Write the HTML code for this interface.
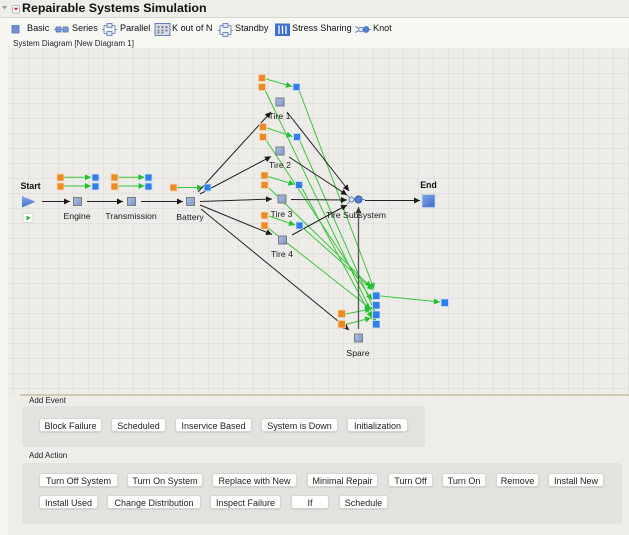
<!DOCTYPE html>
<html><head><meta charset="utf-8">
<style>
html,body{margin:0;padding:0;}
body{width:629px;height:535px;overflow:hidden;position:relative;background:#eeede9;font-family:"Liberation Sans",Arial,sans-serif;color:#222;}
.abs{position:absolute;}
#leftstrip{left:0;top:18px;width:8px;height:517px;background:#f5f5f2;}
#titlebar{left:0;top:0;width:629px;height:17px;background:#ededea;border-bottom:1px solid #d6d6d2;}
#toolbar{left:0;top:18px;width:629px;height:30px;background:#f7f7f3;}
#title{left:22px;top:1px;font-size:12.4px;font-weight:bold;color:#111;white-space:nowrap;}
.tb{position:absolute;top:23px;font-size:9.1px;color:#111;white-space:nowrap;}
#sdlabel{left:13px;top:39px;font-size:8px;color:#222;white-space:nowrap;}
#canvas{left:8px;top:48px;width:621px;height:346px;background-color:#edece9;
background-image:linear-gradient(to right,#e2e1dd 1px,transparent 1px),linear-gradient(to bottom,#e2e1dd 1px,transparent 1px);
background-size:15px 15px;background-position:5px 10px;}
#splitter{left:20px;top:394px;width:609px;height:2px;background:#cbccb3;}
.lbl{position:absolute;font-size:8px;color:#222;white-space:nowrap;}
.panel{position:absolute;background:#e3e2df;border-radius:4px;}
.btn{position:absolute;height:14px;line-height:14px;background:#fff;border:1px solid #d6d6d2;border-radius:3px;box-sizing:border-box;font-size:9px;color:#222;text-align:center;white-space:nowrap;box-shadow:0 0.5px 1px rgba(0,0,0,0.15);}
svg{position:absolute;left:0;top:0;}
</style></head><body>
<div class="abs" id="titlebar"></div>
<div class="abs" id="toolbar"></div>
<div class="abs" id="leftstrip"></div>
<div class="abs" id="canvas"></div>
<div class="abs" id="splitter"></div>

<div class="abs" id="title">Repairable Systems Simulation</div>
<div class="tb" style="left:27px;">Basic</div>
<div class="tb" style="left:72px;">Series</div>
<div class="tb" style="left:120px;">Parallel</div>
<div class="tb" style="left:172px;">K out of N</div>
<div class="tb" style="left:235px;">Standby</div>
<div class="tb" style="left:292px;">Stress Sharing</div>
<div class="tb" style="left:373px;">Knot</div>
<div class="abs" id="sdlabel">System Diagram [New Diagram 1]</div>

<svg width="629" height="535" viewBox="0 0 629 535" xmlns="http://www.w3.org/2000/svg">
<defs>
<marker id="ab" viewBox="0 0 10 10" refX="10" refY="5" markerWidth="8" markerHeight="6" markerUnits="userSpaceOnUse" orient="auto"><path d="M0,0 L10,5 L0,10 z" fill="#1a1a1a"/></marker>
<marker id="ag" viewBox="0 0 10 10" refX="10" refY="5" markerWidth="8" markerHeight="6" markerUnits="userSpaceOnUse" orient="auto"><path d="M0,0 L10,5 L0,10 z" fill="#22c030"/></marker>
<marker id="ad" viewBox="0 0 10 10" refX="10" refY="5" markerWidth="8" markerHeight="6" markerUnits="userSpaceOnUse" orient="auto"><path d="M0,0 L10,5 L0,10 z" fill="#333"/></marker>
<linearGradient id="gb" x1="0" y1="0" x2="1" y2="1"><stop offset="0" stop-color="#a9bde6"/><stop offset="1" stop-color="#7f98cf"/></linearGradient>
<linearGradient id="ge" x1="0" y1="0" x2="1" y2="1"><stop offset="0" stop-color="#7fa6ea"/><stop offset="1" stop-color="#3d6ac8"/></linearGradient>
<linearGradient id="gs" x1="0" y1="0" x2="0" y2="1"><stop offset="0" stop-color="#86acea"/><stop offset="1" stop-color="#3e6fcb"/></linearGradient>
</defs>

<!-- title icons -->
<path d="M2,6 L7,6 L4.5,9.5 z" fill="#9a9a9a"/>
<rect x="12.5" y="5.5" width="7" height="7.5" rx="1.5" fill="#fff" stroke="#b9b9b9"/>
<path d="M13.8,7.8 L18.2,7.8 L16,10.6 z" fill="#d62020"/>

<!-- toolbar icons -->
<rect x="12" y="25.5" width="7" height="7.5" fill="#6f90d4" stroke="#5673b5" stroke-width="0.8"/>
<g stroke="#5673b5" stroke-width="0.8">
<line x1="54" y1="29.5" x2="69" y2="29.5"/>
<rect x="56" y="27" width="5" height="5" fill="#7b9ad8"/>
<rect x="63" y="27" width="5" height="5" fill="#7b9ad8"/>
</g>
<g stroke="#5673b5" stroke-width="0.8" fill="none">
<path d="M102,29.5 H104 M104,25.5 V33.5 M104,25.5 H107 M104,33.5 H107 M112,25.5 H115 M112,33.5 H115 M115,25.5 V33.5 M115,29.5 H117"/>
<rect x="107" y="23.5" width="5" height="4" fill="#dfe6f5"/>
<rect x="107" y="31.5" width="5" height="4" fill="#dfe6f5"/>
</g>
<rect x="155" y="23.5" width="15" height="12" fill="#d7dbe4" stroke="#5673b5" stroke-width="0.9"/>
<g fill="#7a7f8a">
<rect x="157.5" y="26" width="2" height="2"/><rect x="161.5" y="26" width="2" height="2"/><rect x="165.5" y="26" width="2" height="2"/>
<rect x="157.5" y="29.5" width="2" height="2"/><rect x="161.5" y="29.5" width="2" height="2"/><rect x="165.5" y="29.5" width="2" height="2"/>
<rect x="157.5" y="32" width="2" height="1.5"/><rect x="161.5" y="32" width="2" height="1.5"/>
</g>
<g stroke="#5673b5" stroke-width="0.8" fill="none">
<path d="M218,30.5 H220 M220,25.5 V34.5 M220,25.5 H223 M220,34.5 H223 M228,25.5 H231 M228,34.5 H231 M231,25.5 V34.5 M231,30.5 H233"/>
<rect x="223" y="23.5" width="5" height="4" fill="#dfe6f5"/>
<rect x="223" y="32.5" width="5" height="4" fill="#dfe6f5"/>
</g>
<rect x="275" y="23.5" width="15" height="12.5" fill="#3f6fd0"/>
<g stroke="#fff" stroke-width="1.3"><line x1="279" y1="25.5" x2="279" y2="34"/><line x1="282.5" y1="25.5" x2="282.5" y2="34"/><line x1="286" y1="25.5" x2="286" y2="34"/></g>
<g stroke="#5673b5" stroke-width="0.8">
<line x1="355" y1="26.5" x2="361" y2="29.5"/><line x1="355" y1="32.5" x2="361" y2="29.5"/>
<circle cx="361" cy="29.5" r="2.3" fill="#dfe6f5"/>
<circle cx="366" cy="29.5" r="3" fill="#4f7fd0"/>
<line x1="369" y1="29.5" x2="371" y2="29.5"/>
</g>

<!-- long green lines to spare -->
<g stroke="#3cc63c" stroke-width="1" fill="none" marker-end="url(#ag)">
<line x1="265" y1="90" x2="376" y2="322"/>
<line x1="299" y1="90" x2="374" y2="289"/>
<line x1="266" y1="140" x2="372" y2="300"/>
<line x1="300" y1="141" x2="375" y2="312"/>
<line x1="269" y1="188" x2="371" y2="287"/>
<line x1="302" y1="188" x2="372" y2="318"/>
<line x1="268" y1="228" x2="371" y2="309"/>
<line x1="303" y1="228" x2="373" y2="290"/>
</g>

<!-- short green arrows -->
<g stroke="#3cc63c" stroke-width="1" marker-end="url(#ag)">
<line x1="64" y1="177.3" x2="91" y2="177.3"/>
<line x1="64" y1="186" x2="91" y2="186"/>
<line x1="118" y1="177.3" x2="144.5" y2="177.3"/>
<line x1="118" y1="186" x2="144.5" y2="186"/>
<line x1="177" y1="187.5" x2="203" y2="187.5"/>
<line x1="266" y1="79" x2="292" y2="86.5"/>
<line x1="267" y1="128" x2="292.5" y2="136.5"/>
<line x1="268" y1="176.5" x2="294.5" y2="184.5"/>
<line x1="269" y1="216" x2="295" y2="225"/>
<line x1="345.5" y1="314" x2="371" y2="309"/>
<line x1="345.5" y1="324.5" x2="371" y2="318"/>
<line x1="380.5" y1="296" x2="440" y2="302"/>
</g>

<!-- black arrows -->
<g stroke="#222" stroke-width="1" marker-end="url(#ab)">
<line x1="42" y1="201.5" x2="70" y2="201.5"/>
<line x1="87" y1="201.5" x2="123" y2="201.5"/>
<line x1="141" y1="201.5" x2="183" y2="201.5"/>
<line x1="198" y1="192" x2="271" y2="112"/>
<line x1="200" y1="194" x2="271" y2="156.5"/>
<line x1="200" y1="201.5" x2="272" y2="199"/>
<line x1="200" y1="205" x2="272" y2="234.5"/>
<line x1="201" y1="209" x2="349" y2="330"/>
<line x1="287" y1="112" x2="349" y2="191"/>
<line x1="289" y1="157" x2="347" y2="195"/>
<line x1="291" y1="199.5" x2="347" y2="200"/>
<line x1="292" y1="235" x2="347" y2="205"/>
<line x1="365" y1="200.5" x2="420" y2="200.5"/>
</g>
<line x1="358.5" y1="329" x2="358.5" y2="207" stroke="#555" stroke-width="1.3" marker-end="url(#ad)"/>

<!-- orange squares -->
<g fill="#ef8a23" stroke="#f7d9b5" stroke-width="0.8">
<rect x="57" y="174" width="7" height="7"/><rect x="57" y="183" width="7" height="7"/>
<rect x="111" y="174" width="7" height="7"/><rect x="111" y="183" width="7" height="7"/>
<rect x="170" y="184" width="7" height="7"/>
<rect x="258.5" y="74.5" width="7" height="7"/><rect x="258.5" y="83.5" width="7" height="7"/>
<rect x="259.5" y="123.5" width="7" height="7"/><rect x="259.5" y="133.5" width="7" height="7"/>
<rect x="261" y="172" width="7" height="7"/><rect x="261" y="181.5" width="7" height="7"/>
<rect x="261" y="212" width="7" height="7"/><rect x="261" y="222" width="7" height="7"/>
<rect x="338" y="310" width="7.5" height="7.5"/><rect x="338" y="320.5" width="7.5" height="7.5"/>
</g>
<!-- blue squares -->
<g fill="#2f7fea" stroke="#cfe0f8" stroke-width="0.8">
<rect x="92" y="174" width="7" height="7"/><rect x="92" y="183" width="7" height="7"/>
<rect x="145" y="174" width="7" height="7"/><rect x="145" y="183" width="7" height="7"/>
<rect x="204" y="184" width="7" height="7"/>
<rect x="293" y="83.5" width="7" height="7"/>
<rect x="293.5" y="133.5" width="7" height="7"/>
<rect x="295.5" y="181.5" width="7" height="7"/>
<rect x="296" y="222" width="7" height="7"/>
<rect x="372.5" y="292" width="7.5" height="7.5"/><rect x="372.5" y="301.5" width="7.5" height="7.5"/>
<rect x="372.5" y="311" width="7.5" height="7.5"/><rect x="372.5" y="320.5" width="7.5" height="7.5"/>
<rect x="441" y="299" width="7.5" height="7.5"/>
</g>
<!-- blocks -->
<g fill="url(#gb)" stroke="#7d7d7d" stroke-width="1">
<rect x="73.5" y="197.5" width="8" height="8"/>
<rect x="127.5" y="197.5" width="8" height="8"/>
<rect x="186.5" y="197.5" width="8" height="8"/>
<rect x="276" y="98" width="8" height="8"/>
<rect x="276" y="147" width="8" height="8"/>
<rect x="278" y="195" width="8" height="8"/>
<rect x="278.5" y="236" width="8" height="8"/>
<rect x="354.5" y="334" width="8" height="8"/>
</g>
<rect x="422" y="194.5" width="13" height="13" fill="url(#ge)" stroke="#c9d5ee" stroke-width="0.8"/>

<!-- start -->
<path d="M22,196 L22,207.5 L35.5,201.75 z" fill="url(#gs)"/>
<rect x="23" y="213.5" width="10" height="9" rx="2" fill="#fff" stroke="#cfcfcf" stroke-width="0.8"/>
<path d="M26.5,215.6 L26.5,220.4 L30.6,218 z" fill="#22b02c"/>

<!-- knot -->
<g stroke="#5a6f9e" stroke-width="0.8">
<line x1="347" y1="195" x2="352" y2="199.5"/><line x1="347" y1="204" x2="352" y2="199.5"/>
<circle cx="351.5" cy="199.5" r="2.6" fill="#d6deee"/>
<circle cx="358.5" cy="199.5" r="3.6" fill="#4f7fd0" stroke="#2f4f8f"/>
<line x1="362" y1="199.5" x2="365" y2="199.5"/>
</g>

<!-- labels -->
<g font-family="Liberation Sans, Arial, sans-serif" font-size="8.7" fill="#1a1a1a" text-anchor="middle">
<text x="77" y="219">Engine</text>
<text x="131" y="219">Transmission</text>
<text x="190" y="220">Battery</text>
<text x="279.5" y="119">Tire 1</text>
<text x="280" y="168">Tire 2</text>
<text x="281.5" y="217">Tire 3</text>
<text x="282" y="257">Tire 4</text>
<text x="356" y="218">Tire Subsystem</text>
<text x="358" y="356">Spare</text>
</g>
<g font-family="Liberation Sans, Arial, sans-serif" font-size="8.8" font-weight="bold" fill="#111">
<text x="20.5" y="189">Start</text>
<text x="428.5" y="188" text-anchor="middle">End</text>
</g>
</svg>

<div class="lbl" style="left:29px;top:396px;">Add Event</div>
<div class="panel" style="left:22px;top:406px;width:403px;height:41px;"></div>
<div class="btn" style="left:39px;top:418px;width:63px;">Block Failure</div>
<div class="btn" style="left:111px;top:418px;width:55px;">Scheduled</div>
<div class="btn" style="left:175px;top:418px;width:77px;">Inservice Based</div>
<div class="btn" style="left:261px;top:418px;width:77px;">System is Down</div>
<div class="btn" style="left:347px;top:418px;width:61px;">Initialization</div>

<div class="lbl" style="left:29px;top:451px;">Add Action</div>
<div class="panel" style="left:22px;top:463px;width:600px;height:61px;"></div>
<div class="btn" style="left:39px;top:473px;width:79px;">Turn Off System</div>
<div class="btn" style="left:127px;top:473px;width:76px;">Turn On System</div>
<div class="btn" style="left:212px;top:473px;width:85px;">Replace with New</div>
<div class="btn" style="left:307px;top:473px;width:71px;">Minimal Repair</div>
<div class="btn" style="left:388px;top:473px;width:45px;">Turn Off</div>
<div class="btn" style="left:442px;top:473px;width:44px;">Turn On</div>
<div class="btn" style="left:496px;top:473px;width:43px;">Remove</div>
<div class="btn" style="left:548px;top:473px;width:56px;">Install New</div>
<div class="btn" style="left:39px;top:495px;width:59px;">Install Used</div>
<div class="btn" style="left:107px;top:495px;width:94px;">Change Distribution</div>
<div class="btn" style="left:210px;top:495px;width:71px;">Inspect Failure</div>
<div class="btn" style="left:291px;top:495px;width:38px;">If</div>
<div class="btn" style="left:339px;top:495px;width:49px;">Schedule</div>
</body></html>
